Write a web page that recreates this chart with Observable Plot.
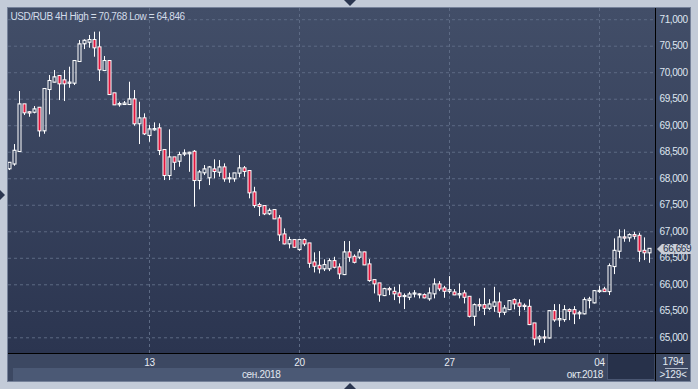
<!DOCTYPE html>
<html><head><meta charset="utf-8">
<script src="https://cdn.jsdelivr.net/npm/d3@7"></script>
<script src="https://cdn.jsdelivr.net/npm/@observablehq/plot@0.6"></script>
<style>
html,body{margin:0;padding:0;background:#c3cbd8;}
#wrap{position:relative;width:698px;height:389px;overflow:hidden;background:#c3cbd8;font-family:"Liberation Sans",Arial,sans-serif;font-size:10px;}
#wrap .abs{position:absolute;box-sizing:border-box;}
#wrap svg{position:absolute;left:0;top:0;}
#wrap svg text{letter-spacing:-0.4px;}
</style></head><body><div id="wrap"></div>
<script>
// ---- data (USD/RUB 4H candles) ----
const open = [68187,68277,68513,69394,69245,69254,69330,68903,69683,69821,
69928,69847,69800,69802,70211,70545,70575,70607,70469,70041,
70211,69602,69395,69400,69400,69488,69036,69130,68815,68922,
68941,68532,68060,68394,68330,68465,68470,68500,67966,68111,
68017,68168,68122,68205,67998,67998,68104,68187,68136,67734,
67494,67475,67338,67400,67243,66941,66771,66834,66664,66834,
66771,66413,66349,66300,66300,66437,66319,66192,66602,66519,
66519,66602,66375,66079,66017,65796,65909,65858,65828,65777,
65764,65825,65810,65796,65734,65828,65998,65922,65877,65847,
65809,65828,65764,65405,65607,65607,65556,65594,65658,65481,
65532,65702,65639,65594,65575,65262,64979,64998,64995,65494,
65337,65343,65513,65513,65451,65451,65702,65658,65871,65903,
65871,66343,66632,66885,66885,66928,66915,66632,66602];
const close = [68292,68519,69394,69243,69240,69300,68903,69683,69834,69904,
69790,69790,69805,70211,70526,70594,70607,70469,70054,70211,
69588,69394,69400,69410,69488,69036,69130,68847,68922,68928,
68532,68060,68394,68311,68437,68470,68481,67966,68111,68168,
68205,68136,68205,67998,68000,68092,68187,68136,67734,67494,
67475,67338,67387,67243,66941,66771,66834,66707,66834,66771,
66405,66349,66300,66362,66437,66330,66205,66602,66519,66424,
66602,66375,66079,66017,65809,65909,65905,65828,65777,65780,
65809,65828,65809,65753,65828,65998,65922,65877,65890,65809,
65815,65764,65405,65607,65600,65556,65620,65658,65481,65545,
65683,65639,65594,65590,65249,64979,64998,64995,65494,65337,
65345,65513,65500,65451,65455,65702,65715,65871,65877,65871,
66343,66632,66885,66880,66928,66915,66632,66602,66669];
const high = [68300,68645,69645,69400,69268,69362,69343,69690,69947,70041,
69930,70041,70104,70215,70607,70620,70702,70764,70768,70305,
70215,69605,69443,69456,69821,69664,69443,69224,69003,69054,
69036,68540,68922,68400,68500,68545,68500,68532,68155,68249,
68230,68356,68343,68281,68104,68095,68437,68230,68140,67839,
67538,67480,67432,67405,67305,67054,66896,66847,66847,66866,
66775,66602,66626,66470,66489,66519,66394,66815,66815,66564,
66664,66614,66475,66085,66020,65934,65953,65953,65998,65828,
65858,65890,65828,65828,65941,66111,66060,65971,66154,65909,
66017,65890,65770,65639,65734,65934,65720,65953,65847,65607,
65702,65734,65720,65639,65715,65265,65041,65136,65500,65626,
65626,65607,65545,65588,65500,65753,65764,65890,65971,65953,
66394,66866,67036,67036,66960,66990,66972,66885,66675];
const low = [68155,68236,68494,69192,69160,69224,68783,68839,69205,69809,
69475,69456,69707,69758,70200,70437,70462,70292,69834,70022,
69570,69381,69349,69381,69381,68990,68645,68815,68688,68896,
68437,67966,67966,68155,68217,68419,68122,67462,67790,68060,
67871,67998,68029,67934,67915,67934,68017,68029,67621,67443,
67287,67305,67305,67230,66815,66753,66677,66689,66632,66720,
66311,66224,66205,66249,66249,66300,66098,66173,66424,66394,
66475,66362,66047,65828,65670,65777,65796,65702,65639,65532,
65702,65753,65734,65734,65689,65734,65871,65745,65828,65796,
65734,65639,65375,65217,65500,65419,65513,65481,65375,65419,
65513,65526,65405,65513,65230,64846,64896,64896,64979,65292,
65198,65292,65324,65249,65343,65432,65545,65639,65839,65858,
65796,66192,66489,66802,66802,66847,66424,66456,66405];
const yTicks = [65000,65500,66000,66500,67000,67500,68000,68500,69000,69500,70000,70500,71000];
const xTickIndex = [28, 58, 88, 118];
const xTickLabels = ["13", "20", "27", "04"];
const monthLabels = ["сен.2018", "окт.2018"];
const monthStart = [0, 100];
const titleText = "USD/RUB 4H High = 70,768 Low = 64,846";
const lastPriceLabel = "66,669";
const volumeLabel = "1794";
const barsLabel = ">129<";

// ---- page ----
const wrap = document.getElementById("wrap");
function box(l, t, w, h, style, text) {
  const d = document.createElement("div");
  d.className = "abs";
  Object.assign(d.style, {left: l + "px", top: t + "px", width: w + "px", height: h + "px"}, style || {});
  if (text != null) d.textContent = text;
  wrap.appendChild(d);
  return d;
}

const idx = d3.range(open.length);
const up = idx.filter(i => close[i] >= open[i]);
const down = idx.filter(i => close[i] < open[i]);
const fmt = d3.format(",");

const chart = Plot.plot({
  width: 698, height: 389,
  marginLeft: 8, marginRight: 42, marginTop: 8, marginBottom: 36,
  style: {background: "transparent", fontFamily: "'Liberation Sans', Arial, sans-serif", fontSize: "10px", overflow: "visible"},
  x: {type: "linear", domain: [0, open.length - 1], range: [9, 649]},
  y: {type: "linear", domain: [65000, 71000], range: [337.3, 19.2]},
  marks: [
    Plot.gridY(yTicks, {stroke: "#5d6a84", strokeOpacity: 1, strokeDasharray: "3,3"}),
    Plot.gridX(xTickIndex, {stroke: "#5d6a84", strokeOpacity: 1, strokeDasharray: "3,3"}),
    Plot.ruleX(idx, {x: i => i, y1: i => high[i], y2: i => Math.max(open[i], close[i]), stroke: "white", strokeWidth: 1, clip: "frame"}),
    Plot.ruleX(idx, {x: i => i, y1: i => Math.min(open[i], close[i]), y2: i => low[i], stroke: "white", strokeWidth: 1, clip: "frame"}),
    Plot.rect(up, {x1: i => i - 0.2, x2: i => i + 0.4, y1: i => open[i], y2: i => close[i], fill: "none", stroke: "white", strokeWidth: 1, insetTop: -0.5, insetBottom: -0.5, clip: "frame"}),
    Plot.rect(down, {x1: i => i - 0.2, x2: i => i + 0.4, y1: i => open[i], y2: i => close[i], fill: "#e0163e", stroke: "white", strokeWidth: 1, insetTop: -0.5, insetBottom: -0.5, clip: "frame"}),
    Plot.axisY(yTicks, {anchor: "right", tickSize: 0, tickPadding: 3, tickFormat: d => fmt(d), color: "#dfe6f0", fontSize: 10, label: null}),
    Plot.axisX(xTickIndex, {anchor: "bottom", tickSize: 0, tickPadding: 5, tickFormat: d => xTickLabels[xTickIndex.indexOf(d)], color: "#e6ebf2", fontSize: 10, label: null}),
    Plot.text([titleText], {frameAnchor: "top-left", dx: 2, dy: 4, lineAnchor: "top", textAnchor: "start", fill: "#d3dcea", fontSize: 10})
  ]
});

const xs = chart.scale("x");
const ys = chart.scale("y");

// backgrounds (behind the svg)
box(7, 7, 684, 375, {background: "#76829a"});
box(8, 8, 682, 345, {background: "linear-gradient(to bottom,#424e68 0%,#2b3550 100%)"});
box(8, 354, 682, 27, {background: "#3c4862"});
box(8, 353, 682, 1, {background: "#000"});
box(655, 8, 1, 373, {background: "#000"});
const sepEnd = xs.apply(monthStart[1]) + 0.5;
box(13, 368, sepEnd - 13, 13, {background: "#4b5975"});
box(13, 368, sepEnd - 13, 13, {color: "#e2e8f0", textAlign: "center", lineHeight: "13px", letterSpacing: "-0.3px"}, monthLabels[0]);
box(sepEnd, 368, 603 - sepEnd, 13, {color: "#e2e8f0", textAlign: "right", lineHeight: "13px", letterSpacing: "-0.3px"}, monthLabels[1]);
box(607, 354, 47, 26, {background: "#27314a", borderLeft: "1px solid #4a5672", borderBottom: "1px solid #4a5672"});
box(656, 355, 34, 13, {color: "#e2e8f0", textAlign: "center", lineHeight: "13px", letterSpacing: "-0.3px"}, volumeLabel);
box(665, 368, 23, 1, {background: "#aeb8c8"});
box(656, 369, 34, 12, {color: "#e2e8f0", textAlign: "center", lineHeight: "12px", letterSpacing: "-0.3px"}, barsLabel);
// little window arrows
box(344, 0, 0, 0, {borderLeft: "6px solid transparent", borderRight: "6px solid transparent", borderTop: "6px solid #2b3650"});
box(344, 383, 0, 0, {borderLeft: "6px solid transparent", borderRight: "6px solid transparent", borderBottom: "6px solid #2b3650"});
box(0, 190, 0, 0, {borderTop: "5px solid transparent", borderBottom: "5px solid transparent", borderLeft: "5px solid #2b3650"});

wrap.appendChild(chart);

// last price label on the axis
const ly = ys.apply(close[close.length - 1]);
box(657, Math.round(ly) - 5, 35, 10, {
  background: "#c9ced8", color: "#26314b", lineHeight: "10px", paddingLeft: "6px", letterSpacing: "-0.4px",
  clipPath: "polygon(0 50%, 5px 0, 100% 0, 100% 100%, 5px 100%)"
}, lastPriceLabel);
</script></body></html>
